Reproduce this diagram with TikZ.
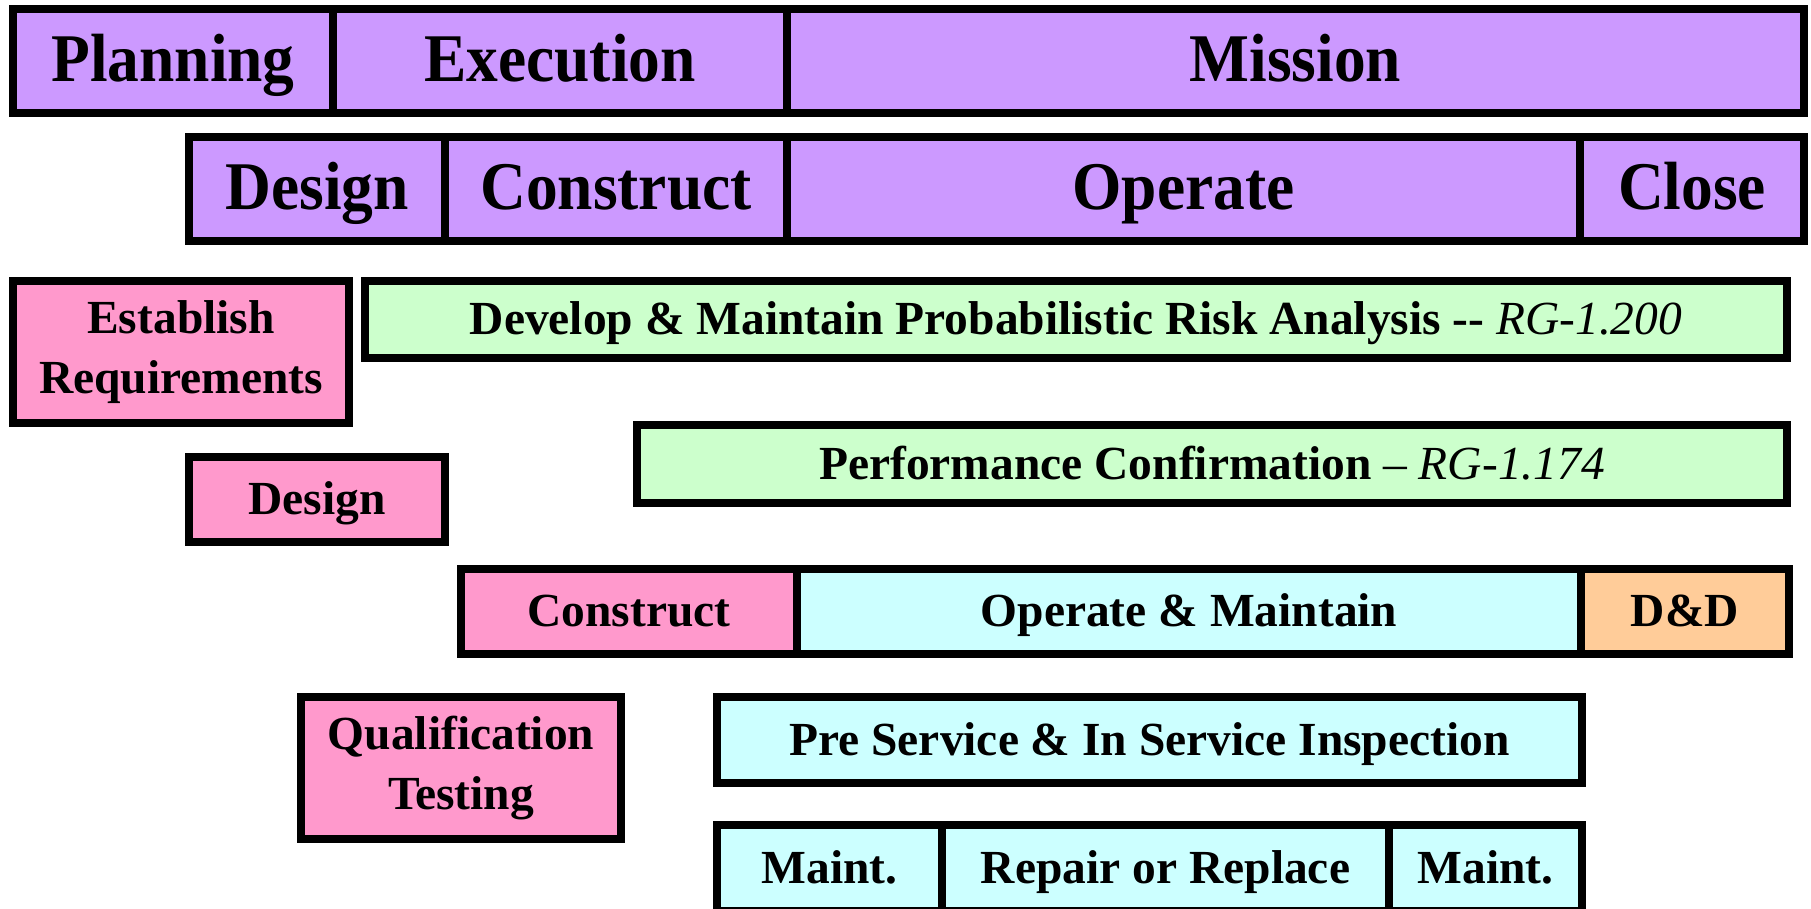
\documentclass[tikz,border=0pt]{standalone}
\usepackage{fontspec}
\setmainfont{Liberation Serif}
% the phase bars use a slightly narrowed face
\newfontfamily\phasefont{Liberation Serif}[FakeStretch=0.93]

\definecolor{phasecol}{HTML}{CC99FF}
\definecolor{buildcol}{HTML}{FF99CC}
\definecolor{riskcol}{HTML}{CCFFCC}
\definecolor{opscol}{HTML}{CCFFFF}
\definecolor{closecol}{HTML}{FFCC99}

\tikzset{
  box/.style={draw=black, line width=0.08cm, inner sep=0pt, align=center},
  phase/.style={box, fill=phasecol, minimum height=1.04cm,
    font=\phasefont\bfseries\fontsize{19.4}{23}\selectfont,
    text height=0.52cm, text depth=0.12cm},
  task/.style={box, font=\bfseries\fontsize{13.5}{16.2}\selectfont,
    text height=0.36cm, text depth=0.06cm},
  % two-line boxes keep their natural text size
  tasktwo/.style={box, font=\bfseries\fontsize{13.5}{17.2}\selectfont,
    minimum height=1.42cm},
}

\begin{document}
\begin{tikzpicture}[x=0.01cm,y=-0.01cm]
\fill[white] (0,0) rectangle (1811,909);
\useasboundingbox (0,0) rectangle (1811,909);

% program phases
\node[phase, minimum width=3.195cm] (planning) at (173,61) {Planning};
\node[phase, minimum width=4.54cm] (execution) at (560,61) {Execution};
\node[phase, minimum width=10.17cm] (mission) at (1295.5,61) {Mission};

% facility phases
\node[phase, minimum width=2.56cm] (design) at (317,189) {Design};
\node[phase, minimum width=3.42cm] (construct) at (616,189) {Construct};
\node[phase, minimum width=7.93cm] (operate) at (1183.5,189) {Operate};
\node[phase, minimum width=2.24cm] (close) at (1692,189) {Close};

% activities
\node[tasktwo, fill=buildcol, minimum width=3.36cm] (reqs) at (181,352) {Establish\\Requirements};
\node[task, fill=riskcol, minimum width=14.22cm, minimum height=0.77cm] (pra) at (1076,319.5)
  {Develop \& Maintain Probabilistic Risk Analysis -{}- \textmd{\itshape RG-1.200}};
\node[task, fill=riskcol, minimum width=11.5cm, minimum height=0.78cm] (perf) at (1212,464)
  {Performance Confirmation \textmd{\itshape -- RG-1.174}};
\node[task, fill=buildcol, minimum width=2.56cm, minimum height=0.85cm] (dsgn) at (317,499.5) {Design};

\node[task, fill=buildcol, minimum width=3.36cm, minimum height=0.85cm] (build) at (629,611.5) {Construct};
\node[task, fill=opscol, minimum width=7.84cm, minimum height=0.85cm] (opmaint) at (1189,611.5) {Operate \& Maintain};
\node[task, fill=closecol, minimum width=2.08cm, minimum height=0.85cm] (dd) at (1685,611.5) {D\&D};

\node[tasktwo, fill=buildcol, minimum width=3.2cm] (qual) at (461,768) {Qualification\\Testing};
\node[task, fill=opscol, minimum width=8.65cm, minimum height=0.86cm] (isi) at (1149.5,740) {Pre Service \& In Service Inspection};

% maintenance strip runs off the bottom edge
\node[task, fill=opscol, minimum width=2.25cm, minimum height=0.86cm] (maintA) at (829.5,868) {Maint.};
\node[task, fill=opscol, minimum width=4.47cm, minimum height=0.86cm] (repair) at (1165.5,868) {Repair or Replace};
\node[task, fill=opscol, minimum width=1.93cm, minimum height=0.86cm] (maintB) at (1485.5,868) {Maint.};
\end{tikzpicture}
\end{document}
